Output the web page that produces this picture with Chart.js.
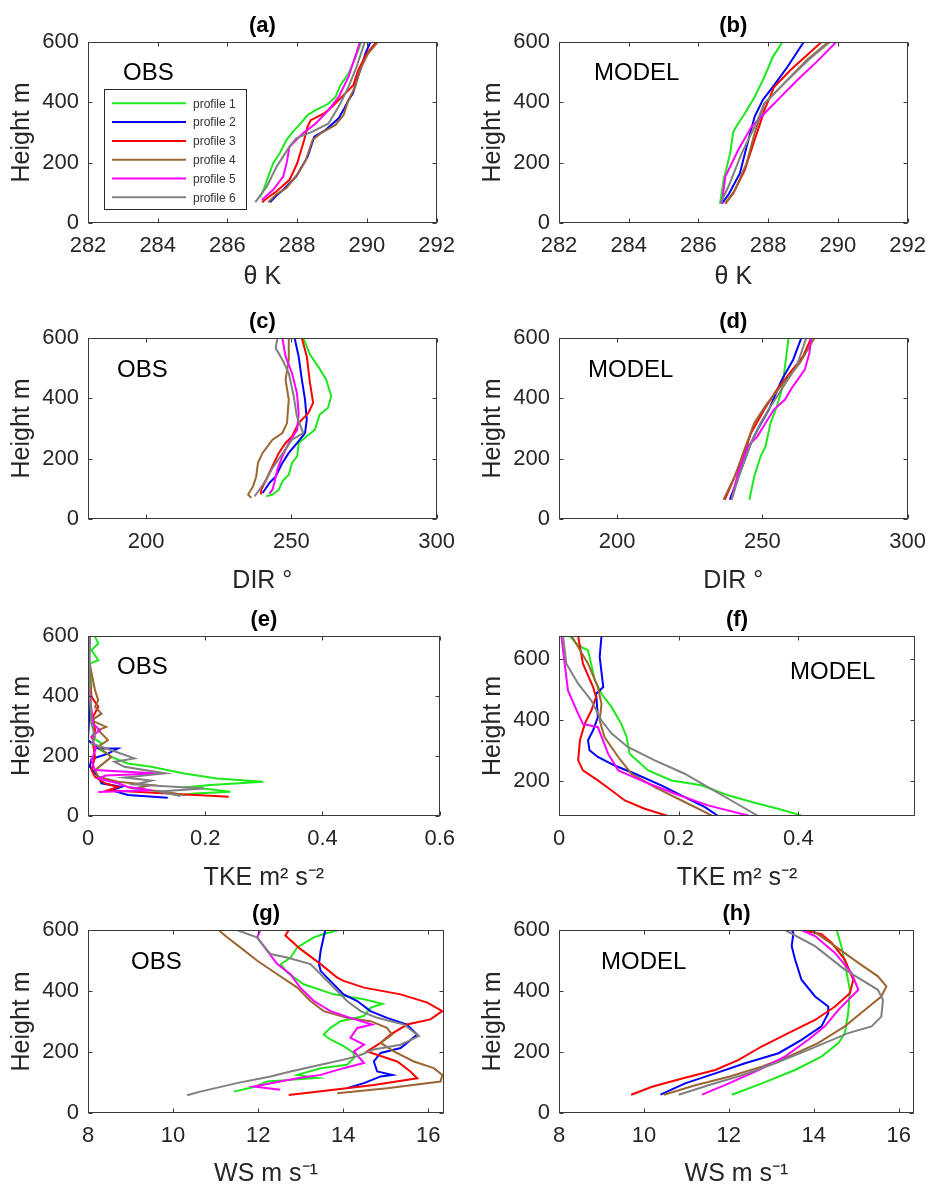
<!DOCTYPE html>
<html>
<head>
<meta charset="utf-8">
<script src="https://cdn.jsdelivr.net/npm/chart.js@4.4.0/dist/chart.umd.min.js"></script>
<style>
  body { margin: 0; background: #fff; width: 936px; height: 1189px; position: relative; overflow: hidden; }
  canvas { position: absolute; }
</style>
</head>
<body>
<script>
// Profiles and axis ticks
const profileNames = ['profile 1', 'profile 2', 'profile 3', 'profile 4', 'profile 5', 'profile 6'];
const profileColors = ['#1ee81e', '#0000ff', '#ff0000', '#9c6633', '#ff00ff', '#808080'];

const heightTicks = [0, 200, 400, 600];
const heightTicksTke = [200, 400, 600];
const thetaTicks = [282, 284, 286, 288, 290, 292];
const dirTicks = [200, 250, 300];
const tkeTicks = [0, 0.2, 0.4, 0.6];
const tkeTicksModel = [0, 0.2, 0.4];
const wsTicks = [8, 10, 12, 14, 16];

// (a) potential temperature, observed  [theta K, height m]
const thetaObs1 = [[286.93,85],[287.05,115],[287.17,154],[287.31,198],[287.5,231],[287.69,275],[287.88,303],[288.06,325],[288.3,358],[288.53,374],[288.9,396],[289.1,418],[289.24,457],[289.47,495],[289.66,545],[289.84,600]];
const thetaObs2 = [[287.22,69],[287.4,90],[287.6,110],[287.97,154],[288.15,190],[288.3,220],[288.4,255],[288.49,286],[288.81,308],[289.19,347],[289.35,380],[289.47,407],[289.6,430],[289.7,470],[289.84,517],[289.95,560],[290.1,600]];
const thetaObs3 = [[286.99,69],[287.2,88],[287.41,105],[287.78,143],[288.0,198],[288.2,275],[288.3,320],[288.39,341],[288.77,363],[289.0,385],[289.28,418],[289.61,457],[289.75,507],[289.99,561],[290.27,600]];
const thetaObs4 = [[287.17,69],[287.4,95],[287.69,116],[288.0,160],[288.25,209],[288.44,275],[288.67,297],[289.1,325],[289.33,358],[289.47,407],[289.66,451],[289.8,507],[290.03,561],[290.31,600]];
const thetaObs5 = [[286.99,77],[287.31,110],[287.6,154],[287.7,200],[287.78,253],[288.16,297],[288.53,330],[288.9,374],[289.19,418],[289.47,484],[289.66,550],[289.8,600]];
const thetaObs6 = [[286.8,69],[287.13,121],[287.41,187],[287.78,253],[287.97,281],[288.44,303],[288.9,330],[289.24,396],[289.47,451],[289.7,517],[289.94,600]];

// (b) potential temperature, model
const thetaMod1 = [[286.62,64],[286.72,143],[286.91,231],[286.95,264],[287.0,303],[287.14,330],[287.33,363],[287.61,418],[287.89,484],[288.13,550],[288.41,600]];
const thetaMod2 = [[286.67,64],[286.86,94],[287.19,165],[287.38,253],[287.61,352],[287.84,407],[288.17,457],[288.55,517],[289.02,600]];
const thetaMod3 = [[286.77,64],[287.0,99],[287.33,176],[287.61,275],[287.8,341],[287.89,374],[288.17,451],[288.64,507],[289.11,556],[289.53,600]];
const thetaMod4 = [[286.77,64],[287.05,110],[287.38,198],[287.61,297],[287.89,396],[288.45,462],[289.11,540],[289.72,600]];
const thetaMod5 = [[286.67,64],[286.77,154],[287.14,242],[287.52,319],[287.89,363],[288.36,418],[288.83,473],[289.39,534],[289.95,600]];
const thetaMod6 = [[286.62,64],[286.86,121],[287.24,231],[287.61,319],[287.89,396],[288.45,462],[289.2,545],[289.77,600]];

// (c) wind direction, observed  [deg, height m]
const dirObs1 = [[254.1,600],[256.4,545],[259.2,506],[262.0,462],[263.7,407],[262.6,368],[259.7,346],[258.1,296],[255.3,274],[252.5,252],[252.0,208],[250.2,186],[249.1,147],[246.9,125],[245.7,97],[243.5,81],[241.3,75]];
const dirObs2 = [[251.1,600],[252.5,539],[253.6,462],[254.7,396],[255.3,329],[254.7,285],[252.0,252],[249.1,219],[246.9,186],[244.6,141],[242.4,119],[240.1,86]];
const dirObs3 = [[253.6,600],[255.3,539],[256.4,451],[257.5,385],[255.8,351],[252.5,318],[250.2,274],[248.0,252],[245.7,219],[243.5,175],[241.3,130],[239.6,97],[239.6,81]];
const dirObs4 = [[249.1,600],[249.1,528],[248.0,462],[249.1,396],[248.5,318],[246.9,285],[243.5,263],[240.1,219],[238.5,186],[237.9,141],[236.8,108],[235.1,81],[236.2,70]];
const dirObs5 = [[246.9,600],[248.0,539],[250.2,484],[251.9,418],[252.5,351],[252.0,296],[249.1,252],[246.9,208],[245.2,164],[244.1,119],[243.5,97],[242.4,84]];
const dirObs6 = [[245.2,600],[244.6,567],[246.9,528],[249.1,484],[250.8,407],[251.9,340],[254.1,285],[250.2,263],[246.3,208],[243.5,169],[241.3,130],[239.0,97],[237.3,75]];

// (d) wind direction, model
const dirMod1 = [[245.5,64],[247.2,141],[249.4,208],[251.1,241],[252.8,318],[255.0,373],[256.7,429],[257.8,506],[259.0,600]];
const dirMod2 = [[238.8,64],[242.7,164],[246.1,252],[248.3,296],[252.2,362],[256.7,462],[260.6,528],[263.4,600]];
const dirMod3 = [[237.1,64],[240.5,141],[243.8,219],[246.1,285],[250.6,362],[255.0,429],[259.5,484],[264.0,539],[266.8,600]];
const dirMod4 = [[236.6,64],[240.5,141],[243.8,230],[247.2,318],[251.7,384],[257.3,451],[262.9,517],[267.9,600]];
const dirMod5 = [[239.4,64],[241.6,152],[245.0,241],[248.3,274],[251.1,318],[253.9,362],[257.8,396],[260.1,434],[264.6,495],[266.2,550],[266.8,600]];
const dirMod6 = [[239.4,64],[242.7,164],[246.1,252],[249.4,318],[252.8,373],[257.3,440],[261.8,506],[265.1,600]];

// (e) TKE, observed  [m2 s-2, height m]
const tkeObs1 = [[0.012,597],[0.0175,575],[0.006,553],[0.0175,519],[0.003,508],[0.006,441],[0.003,364],[0.006,308],[0.012,286],[0.006,264],[0.023,242],[0.0175,225],[0.04,197],[0.068,175],[0.108,164],[0.164,142],[0.22,125],[0.299,114],[0.209,103],[0.175,97],[0.243,81],[0.181,75],[0.164,70]];
const tkeObs2 = [[0.002,597],[0.001,520],[0.0,397],[0.002,330],[0.0,253],[0.0175,225],[0.051,225],[0.034,208],[0.006,190],[0.003,164],[0.0175,131],[0.023,109],[0.057,97],[0.04,86],[0.068,70],[0.136,61]];
const tkeObs3 = [[0.003,597],[0.001,508],[0.006,397],[0.0175,364],[0.0085,330],[0.012,286],[0.0085,242],[0.012,197],[0.006,153],[0.012,131],[0.029,109],[0.051,97],[0.034,86],[0.136,75],[0.24,64]];
const tkeObs4 = [[0.003,508],[0.012,419],[0.0175,386],[0.012,364],[0.023,341],[0.006,319],[0.031,297],[0.0175,286],[0.034,253],[0.0175,231],[0.04,197],[0.012,153],[0.0175,131],[0.051,114],[0.108,103],[0.079,92],[0.13,81],[0.164,70]];
const tkeObs5 = [[0.003,597],[0.0,464],[0.0085,308],[0.02,286],[0.006,264],[0.0135,225],[0.006,186],[0.0118,153],[0.12,142],[0.03,135],[0.0175,125],[0.051,109],[0.068,97],[0.108,86],[0.0175,80]];
const tkeObs6 = [[0.003,597],[0.003,453],[0.006,308],[0.012,264],[0.006,242],[0.04,219],[0.079,192],[0.045,181],[0.062,164],[0.132,142],[0.062,128],[0.108,118],[0.079,105],[0.198,92],[0.12,82],[0.158,67]];

// (f) TKE, model
const tkeMod1 = [[0.018,677],[0.032,646],[0.0485,630],[0.06,531],[0.071,487],[0.088,443],[0.104,388],[0.113,345],[0.118,290],[0.149,235],[0.188,202],[0.238,186],[0.283,153],[0.322,131],[0.366,109],[0.405,87]];
const tkeMod2 = [[0.071,677],[0.068,608],[0.074,509],[0.062,487],[0.065,410],[0.057,367],[0.0485,334],[0.051,301],[0.065,279],[0.093,251],[0.127,224],[0.171,186],[0.21,147],[0.244,114],[0.266,85]];
const tkeMod3 = [[0.032,677],[0.04,586],[0.057,509],[0.062,476],[0.054,432],[0.043,388],[0.035,334],[0.032,268],[0.04,235],[0.065,202],[0.088,169],[0.11,136],[0.143,109],[0.182,85]];
const tkeMod4 = [[0.021,677],[0.032,641],[0.0485,586],[0.065,509],[0.071,454],[0.068,399],[0.076,345],[0.099,279],[0.121,224],[0.16,180],[0.205,136],[0.255,87]];
const tkeMod5 = [[0.004,677],[0.0095,586],[0.015,498],[0.032,421],[0.04,388],[0.065,377],[0.082,290],[0.099,235],[0.143,197],[0.194,158],[0.249,120],[0.319,85]];
const tkeMod6 = [[0.0067,677],[0.0123,586],[0.032,520],[0.054,465],[0.071,399],[0.088,356],[0.115,312],[0.16,268],[0.21,224],[0.249,180],[0.288,136],[0.333,85]];

// (g) wind speed, observed  [m s-1, height m]
const wsObs1 = [[13.9,600],[13.54,587],[13.31,576],[12.92,543],[12.76,510],[12.53,488],[12.68,461],[13.07,422],[13.78,389],[14.49,373],[14.92,358],[14.64,345],[14.49,318],[13.94,301],[13.7,279],[13.54,257],[13.7,241],[14.01,219],[14.25,197],[14.25,180],[14.09,158],[13.47,147],[12.92,125],[13.39,115],[12.21,103],[11.9,85],[11.43,70]];
const wsObs2 = [[13.58,600],[13.54,576],[13.47,532],[13.43,488],[13.47,466],[13.62,444],[14.01,389],[14.33,367],[14.64,334],[15.03,312],[15.5,290],[15.74,257],[15.35,213],[14.88,197],[14.72,169],[14.8,136],[15.15,125],[14.88,120],[14.49,98],[14.09,81]];
const wsObs3 = [[12.72,600],[12.64,582],[12.99,538],[13.47,488],[13.86,444],[14.01,433],[14.49,411],[15.35,389],[15.98,362],[16.33,334],[16.05,307],[15.5,290],[15.11,257],[14.88,230],[14.56,202],[15.27,169],[15.58,136],[15.74,114],[14.72,92],[13.78,76],[12.72,59]];
const wsObs4 = [[11.07,600],[11.27,576],[11.58,543],[11.98,499],[12.45,455],[12.92,411],[13.23,367],[13.54,334],[14.09,312],[14.64,301],[15.03,279],[15.15,257],[14.88,230],[15.19,202],[15.66,169],[16.13,147],[16.33,125],[16.29,103],[15.03,81],[13.86,65]];
const wsObs5 = [[12.05,600],[11.98,576],[12.21,532],[12.45,488],[12.76,455],[12.99,411],[13.31,367],[13.7,334],[14.17,312],[14.68,290],[14.33,279],[14.17,246],[14.49,224],[14.25,202],[14.49,164],[14.01,147],[13.47,125],[12.92,114],[11.9,87],[12.52,76]];
const wsObs6 = [[11.5,600],[11.97,576],[12.29,521],[12.68,510],[13.23,488],[13.47,455],[13.78,411],[14.09,367],[14.41,334],[14.8,312],[15.43,290],[15.78,252],[15.35,224],[14.72,208],[14.33,186],[14.01,175],[13.47,158],[12.76,136],[12.29,120],[11.5,98],[10.64,70],[10.33,58]];

// (h) wind speed, model
const wsMod1 = [[12.07,60],[12.78,97],[13.56,141],[14.18,185],[14.58,229],[14.73,262],[14.81,327],[14.85,404],[14.73,492],[14.65,547],[14.54,600]];
const wsMod2 = [[10.39,60],[10.97,97],[11.68,130],[12.38,163],[13.17,196],[13.71,240],[14.18,284],[14.34,327],[14.34,349],[14.03,382],[13.71,437],[13.56,503],[13.48,547],[13.52,591],[13.48,600]];
const wsMod3 = [[9.7,60],[10.19,86],[10.9,113],[11.68,141],[12.23,174],[12.77,218],[13.4,262],[14.03,305],[14.5,349],[14.85,393],[14.93,437],[14.73,503],[14.42,558],[14.18,586],[13.75,600]];
const wsMod4 = [[10.47,60],[11.21,91],[12.0,119],[12.77,152],[13.4,185],[14.1,229],[14.73,284],[15.2,338],[15.59,382],[15.71,415],[15.51,448],[15.05,492],[14.5,547],[13.95,600]];
const wsMod5 = [[11.37,60],[12.0,97],[12.7,141],[13.32,185],[13.87,240],[14.26,284],[14.58,338],[15.05,404],[14.89,459],[14.5,525],[14.03,580],[13.71,600]];
const wsMod6 = [[10.82,60],[11.52,91],[12.31,124],[13.09,163],[13.87,207],[14.81,262],[15.36,284],[15.59,316],[15.63,371],[15.51,404],[14.73,470],[14.03,547],[13.32,600]];

const TEXT = '#262626';
const FONT = "'Liberation Sans', Arial, Helvetica, sans-serif";

// plot box on the page: [left, top, right, bottom]; note offset from plot top-left
const panels = [
  { title: '(a)', series: [thetaObs1, thetaObs2, thetaObs3, thetaObs4, thetaObs5, thetaObs6], box: [88, 42, 443, 223],
    x: [282, 292, thetaTicks], y: [0, 600, heightTicks], xLabel: 'θ K', note: ['OBS', 35, 31], legend: true, below: 54 },
  { title: '(b)', series: [thetaMod1, thetaMod2, thetaMod3, thetaMod4, thetaMod5, thetaMod6], box: [559, 42, 914, 223],
    x: [282, 292, thetaTicks], y: [0, 600, heightTicks], xLabel: 'θ K', note: ['MODEL', 35, 31], below: 54 },
  { title: '(c)', series: [dirObs1, dirObs2, dirObs3, dirObs4, dirObs5, dirObs6], box: [88, 338, 443, 519],
    x: [180, 300, dirTicks], y: [0, 600, heightTicks], xLabel: 'DIR °', note: ['OBS', 29, 32], below: 62 },
  { title: '(d)', series: [dirMod1, dirMod2, dirMod3, dirMod4, dirMod5, dirMod6], box: [559, 338, 914, 519],
    x: [180, 300, dirTicks], y: [0, 600, heightTicks], xLabel: 'DIR °', note: ['MODEL', 29, 32], below: 62 },
  { title: '(e)', series: [tkeObs1, tkeObs2, tkeObs3, tkeObs4, tkeObs5, tkeObs6], box: [88, 636, 443, 816],
    x: [0, 0.6, tkeTicks], y: [0, 600, heightTicks], xLabel: 'TKE m² s⁻²', note: ['OBS', 29, 31], below: 62 },
  { title: '(f)', series: [tkeMod1, tkeMod2, tkeMod3, tkeMod4, tkeMod5, tkeMod6], box: [559, 636, 915, 816],
    x: [0, 0.595, tkeTicksModel], y: [85, 677, heightTicksTke], xLabel: 'TKE m² s⁻²', note: ['MODEL', 231, 36], below: 62 },
  { title: '(g)', series: [wsObs1, wsObs2, wsObs3, wsObs4, wsObs5, wsObs6], box: [88, 930, 444, 1113],
    x: [8, 16.37, wsTicks], y: [0, 600, heightTicks], xLabel: 'WS m s⁻¹', note: ['OBS', 43, 32], below: 61 },
  { title: '(h)', series: [wsMod1, wsMod2, wsMod3, wsMod4, wsMod5, wsMod6], box: [559, 930, 914, 1113],
    x: [8, 16.36, wsTicks], y: [0, 600, heightTicks], xLabel: 'WS m s⁻¹', note: ['MODEL', 42, 32], below: 61 }
];

// box, inside tick marks, panel note and legend
const framePlugin = {
  id: 'frame',
  afterDatasetsDraw(chart, args, opts) {
    const { ctx, chartArea: a } = chart;
    const sx = chart.scales.x, sy = chart.scales.y;
    const l = Math.round(a.left) + 0.5, r = Math.round(a.right) - 0.5;
    const t = Math.round(a.top) + 0.5, b = Math.round(a.bottom) - 0.5;
    ctx.save();
    ctx.strokeStyle = '#3a3a3a';
    ctx.lineWidth = 1;
    ctx.beginPath();
    sx.ticks.forEach(tk => {
      const px = Math.round(sx.getPixelForValue(tk.value)) + 0.5;
      ctx.moveTo(px, b); ctx.lineTo(px, b - 4);
      ctx.moveTo(px, t); ctx.lineTo(px, t + 4);
    });
    sy.ticks.forEach(tk => {
      const py = Math.round(sy.getPixelForValue(tk.value)) + 0.5;
      ctx.moveTo(l, py); ctx.lineTo(l + 4, py);
      ctx.moveTo(r, py); ctx.lineTo(r - 4, py);
    });
    ctx.stroke();
    ctx.strokeRect(l, t, r - l, b - t);

    ctx.fillStyle = '#000';
    ctx.font = '24px ' + FONT;
    ctx.textAlign = 'left';
    ctx.textBaseline = 'middle';
    ctx.fillText(opts.note[0], a.left + opts.note[1], a.top + opts.note[2]);

    if (opts.legend) {
      const bx = a.left + 16, by = a.top + 47;
      ctx.fillStyle = '#fff';
      ctx.fillRect(bx, by, 142, 120);
      ctx.strokeStyle = '#262626';
      ctx.strokeRect(bx + 0.5, by + 0.5, 142, 120);
      ctx.font = '12px ' + FONT;
      chart.data.datasets.forEach((ds, i) => {
        const ly = by + 14.3 + i * 18.8;
        ctx.strokeStyle = ds.borderColor;
        ctx.lineWidth = 2;
        ctx.beginPath();
        ctx.moveTo(bx + 8, ly); ctx.lineTo(bx + 82, ly);
        ctx.stroke();
        ctx.fillStyle = '#333';
        ctx.fillText(ds.label, bx + 89, ly + 1);
      });
    }
    ctx.restore();
  }
};

function drawPanel(p) {
  const [L, T, R, B] = p.box;
  const xSpace = p.below + 15;
  const w = (R - L) + 88 + 22;
  const h = (B - T) + 42 + xSpace;
  const cv = document.createElement('canvas');
  cv.width = w; cv.height = h;
  cv.style.left = (L - 88) + 'px';
  cv.style.top = (T - 42) + 'px';
  cv.style.width = w + 'px';
  cv.style.height = h + 'px';
  document.body.appendChild(cv);

  new Chart(cv, {
    type: 'scatter',
    data: {
      datasets: p.series.map((pts, i) => ({
        label: profileNames[i],
        data: pts.map(([x, y]) => ({ x, y })),
        showLine: true,
        borderColor: profileColors[i],
        backgroundColor: profileColors[i],
        borderWidth: 2,
        pointRadius: 0,
        tension: 0,
        order: 6 - i
      }))
    },
    options: {
      responsive: false,
      animation: false,
      devicePixelRatio: 1,
      layout: { padding: { left: 0, top: 0, right: 22, bottom: 0 } },
      plugins: {
        legend: { display: false },
        tooltip: { enabled: false },
        title: {
          display: true, text: p.title, fullSize: false, color: '#000',
          font: { family: FONT, size: 22, weight: 'bold' },
          padding: { top: 12.8, bottom: 2.8 }
        },
        frame: { note: p.note, legend: !!p.legend }
      },
      scales: {
        x: {
          type: 'linear', position: 'bottom', min: p.x[0], max: p.x[1],
          grid: { display: false, drawTicks: false },
          border: { display: false },
          afterBuildTicks: s => { s.ticks = p.x[2].map(v => ({ value: v })); },
          afterFit: s => { s.height = xSpace; },
          ticks: {
            color: TEXT, font: { family: FONT, size: 22 }, padding: 10,
            maxRotation: 0, autoSkip: false, callback: v => String(v)
          },
          title: {
            display: true, text: p.xLabel, color: TEXT,
            font: { family: FONT, size: 25 }, padding: { top: 0, bottom: 0 }
          }
        },
        y: {
          type: 'linear', position: 'left', min: p.y[0], max: p.y[1],
          grid: { display: false, drawTicks: false },
          border: { display: false },
          afterBuildTicks: s => { s.ticks = p.y[2].map(v => ({ value: v })); },
          afterFit: s => { s.width = 88; },
          ticks: {
            color: TEXT, font: { family: FONT, size: 22 }, padding: 9,
            autoSkip: false, callback: v => String(v)
          },
          title: {
            display: true, text: 'Height m', color: TEXT,
            font: { family: FONT, size: 25 }, padding: { top: 6.7, bottom: 0 }
          }
        }
      }
    },
    plugins: [framePlugin]
  });
}

panels.forEach(drawPanel);
</script>
</body>
</html>
